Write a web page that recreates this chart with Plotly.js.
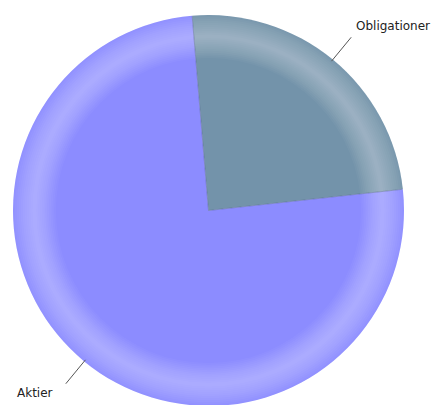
<!DOCTYPE html>
<html>
<head>
<meta charset="utf-8">
<script src="https://cdn.plot.ly/plotly-3.0.1.min.js"></script>
<style>
html,body{margin:0;padding:0;overflow:hidden;background:#fff;}
#chart{width:434px;height:420px;}
</style>
</head>
<body>
<div id="chart"></div>
<script>
// Data
const categories = ['Obligationer', 'Aktier'];
const shares = [24.6, 75.4];
const sliceColors = ['#7393AA', '#8C8CFF'];

// Layout geometry (style)
const W = 434, H = 420;
const M = {l: 12.5, r: 29.5, t: 14.5, b: 13.5};
const PW = W - M.l - M.r, PH = H - M.t - M.b;
const R = PW / 2;
const CX = M.l + R, CY = M.t + R;
const ROT = -4.8;

const traces = [{
  type: 'pie',
  labels: categories,
  values: shares,
  sort: false,
  direction: 'clockwise',
  rotation: ROT,
  textinfo: 'none',
  hoverinfo: 'label+percent',
  showlegend: false,
  marker: {colors: sliceColors, line: {width: 0}},
  domain: {x: [0, 1], y: [0, 1]}
}];

// Bevel highlight: nested overlapping rings around the peak radius
const PEAK = 0.89, N = 12;
for (let k = 1; k <= N; k++) {
  const f = k / N;
  const rIn = PEAK - 0.11 * f;
  const rOut = Math.min(1.0, PEAK + 0.12 * f);
  traces.push({
    type: 'pie',
    values: [1],
    labels: ['ring'],
    sort: false,
    textinfo: 'none',
    hoverinfo: 'skip',
    showlegend: false,
    hole: rIn / rOut,
    marker: {colors: ['rgba(255,255,255,0.033)'], line: {width: 0}},
    domain: {x: [0.5 - rOut / 2, 0.5 + rOut / 2], y: [0.5 - rOut / 2, 0.5 + rOut / 2]}
  });
}

// Slice boundaries and label leaders computed from the data
const total = shares.reduce((s, v) => s + v, 0);
const shapes = [], annotations = [];
const toPX = px => (px - M.l) / PW;
const toPY = py => 1 - (py - M.t) / PH;
let cum = 0;
shares.forEach((v, i) => {
  const startDeg = ROT + cum / total * 360;
  const sa = startDeg * Math.PI / 180;
  shapes.push({type: 'line', xref: 'paper', yref: 'paper',
    x0: toPX(CX), y0: toPY(CY),
    x1: toPX(CX + (R - 0.5) * Math.sin(sa)), y1: toPY(CY - (R - 0.5) * Math.cos(sa)),
    line: {color: 'rgba(80,100,135,0.45)', width: 1}});
  const midDeg = ROT + (cum + v / 2) / total * 360;
  cum += v;
  const a = midDeg * Math.PI / 180;
  const r0 = R - 2, r1 = R + 29;
  const x0 = CX + r0 * Math.sin(a), y0 = CY - r0 * Math.cos(a);
  const x1 = CX + r1 * Math.sin(a), y1 = CY - r1 * Math.cos(a);
  shapes.push({type: 'line', xref: 'paper', yref: 'paper',
    x0: toPX(x0), y0: toPY(y0), x1: toPX(x1), y1: toPY(y1),
    line: {color: '#555555', width: 1}});
  const right = Math.sin(a) >= 0;
  const up = Math.cos(a) >= 0;
  annotations.push({
    xref: 'paper', yref: 'paper',
    x: toPX(x1 + (right ? 3 : -11)),
    y: toPY(y1 + (up ? -11 : 9)),
    xanchor: right ? 'left' : 'right',
    yanchor: 'middle',
    text: categories[i],
    showarrow: false,
    font: {family: 'DejaVu Sans, Arial, sans-serif', size: 12, color: '#222222'}
  });
});

Plotly.newPlot('chart', traces, {
  width: W, height: H,
  margin: M,
  paper_bgcolor: '#ffffff',
  plot_bgcolor: '#ffffff',
  showlegend: false,
  shapes: shapes,
  annotations: annotations
}, {displayModeBar: false, staticPlot: true});
</script>
</body>
</html>
